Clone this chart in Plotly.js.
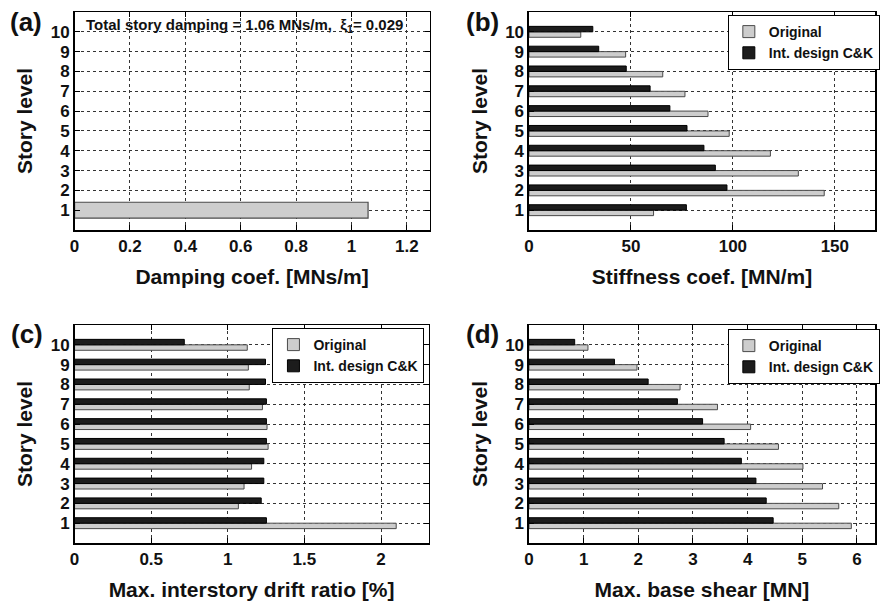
<!DOCTYPE html>
<html><head><meta charset="utf-8">
<script src="https://cdn.plot.ly/plotly-3.0.1.min.js"></script>
<style>html,body{margin:0;padding:0;background:#fff}</style>
</head><body><div id="chart" style="width:880px;height:603px"></div>
<script>
// ---- data ----
const stories = [1,2,3,4,5,6,7,8,9,10];
const storyTicks = ['1','2','3','4','5','6','7','8','9','10'];
const dampingStory = [1];
const dampingValue = [1.06];
const stiffOriginal  = [61.1,144.8,132.1,118.4,98.2,87.8,76.5,65.6,47.4,25.4];
const stiffIntDesign = [77.2,97.1,91.4,85.8,77.5,69.1,59.4,47.7,34.2,31.3];
const driftOriginal  = [2.099,1.069,1.106,1.155,1.263,1.256,1.226,1.140,1.134,1.127];
const driftIntDesign = [1.252,1.218,1.235,1.235,1.252,1.252,1.252,1.246,1.246,0.716];
const shearOriginal  = [5.897,5.667,5.370,5.012,4.564,4.055,3.448,2.764,1.976,1.079];
const shearIntDesign = [4.467,4.340,4.152,3.885,3.570,3.176,2.715,2.180,1.564,0.836];
const seriesNames = ['Original','Int. design C&K'];

// ---- style ----
const F = 'Liberation Sans, Arial, sans-serif';
const grayFill = '#cdcdcd', grayLine = '#4a4a4a', blackFill = '#1c1c1c';

function pair(xo, xi, xa, ya, leg){
  return [
    {type:'bar', orientation:'h', y:stories, x:xo, xaxis:xa, yaxis:ya, name:seriesNames[0], legend:leg,
     marker:{color:grayFill, line:{color:grayLine, width:1}}, hoverinfo:'skip'},
    {type:'bar', orientation:'h', y:stories, x:xi, xaxis:xa, yaxis:ya, name:seriesNames[1], legend:leg,
     marker:{color:blackFill, line:{color:'#000', width:1}}, hoverinfo:'skip'}
  ];
}

const traces = [
  {type:'bar', orientation:'h', y:dampingStory, x:dampingValue, xaxis:'x', yaxis:'y', width:0.8,
   showlegend:false, marker:{color:grayFill, line:{color:grayLine, width:1.2}}, hoverinfo:'skip'}
].concat(
  pair(stiffOriginal, stiffIntDesign, 'x2', 'y2', 'legend2'),
  pair(driftOriginal, driftIntDesign, 'x3', 'y3', 'legend3'),
  pair(shearOriginal, shearIntDesign, 'x4', 'y4', 'legend4')
);

function xax(domain, range, dtick, title, anchor){
  return {domain:domain, range:range, dtick:dtick, tick0:0, anchor:anchor,
    showline:true, linecolor:'#000', linewidth:1.5, mirror:'ticks',
    ticks:'inside', ticklen:5, tickcolor:'#000',
    showgrid:true, gridcolor:'#333', griddash:'3px,3px', gridwidth:1, zeroline:false,
    tickfont:{family:F, size:17, color:'#111', weight:'bold'},
    title:{text:title, font:{family:F, size:21, color:'#111', weight:'bold'}, standoff:14},
    fixedrange:true};
}
function yax(domain, anchor){
  return {domain:domain, range:[0,11], tickvals:stories, ticktext:storyTicks, anchor:anchor,
    showline:true, linecolor:'#000', linewidth:1.5, mirror:'ticks',
    ticks:'inside', ticklen:5, tickcolor:'#000',
    showgrid:true, gridcolor:'#333', griddash:'3px,3px', gridwidth:1, zeroline:false,
    tickfont:{family:F, size:17, color:'#111', weight:'bold'},
    title:{text:'Story level', font:{family:F, size:21, color:'#111', weight:'bold'}, standoff:12},
    fixedrange:true};
}
function legendBox(x, y){
  return {x:x, y:y, xanchor:'left', yanchor:'top', bgcolor:'#fff', bordercolor:'#000', borderwidth:1,
    font:{family:F, size:14, color:'#111', weight:'bold'}, tracegroupgap:0, itemwidth:30};
}

const topRow = [1-230/603, 1-12/603];
const botRow = [1-543/603, 1-325/603];
const leftCol = [75/880, 432/880];
const leftColC = [75/880, 431/880];
const rightCol = [532/880, 1];

const layout = {
  width:880, height:603, margin:{l:0, r:0, t:0, b:0},
  paper_bgcolor:'#fff', plot_bgcolor:'#fff',
  barmode:'group', bargap:0.45, bargroupgap:0,
  showlegend:true,
  font:{family:F, color:'#111'},
  xaxis: xax(leftCol, [0,1.282], 0.2, 'Damping coef. [MNs/m]', 'y'),
  yaxis: yax(topRow, 'x'),
  xaxis2: xax(rightCol, [0,169.7], 50, 'Stiffness coef. [MN/m]', 'y2'),
  yaxis2: yax(topRow, 'x2'),
  xaxis3: xax(leftColC, [0,2.31], 0.5, 'Max. interstory drift ratio [%]', 'y3'),
  yaxis3: yax(botRow, 'x3'),
  xaxis4: xax(rightCol, [0,6.33], 1, 'Max. base shear [MN]', 'y4'),
  yaxis4: yax(botRow, 'x4'),
  legend2: legendBox(732/880, 1-15/603),
  legend3: legendBox(274/880, 1-328/603),
  legend4: legendBox(732/880, 1-329/603),
  annotations: [
    {xref:'paper', yref:'paper', x:44/880, y:1-22/603, xanchor:'right', yanchor:'middle', showarrow:false,
     text:'(a)', font:{family:F, size:26, color:'#111', weight:'bold'}},
    {xref:'paper', yref:'paper', x:504/880, y:1-22/603, xanchor:'right', yanchor:'middle', showarrow:false,
     text:'(b)', font:{family:F, size:26, color:'#111', weight:'bold'}},
    {xref:'paper', yref:'paper', x:45/880, y:1-334/603, xanchor:'right', yanchor:'middle', showarrow:false,
     text:'(c)', font:{family:F, size:26, color:'#111', weight:'bold'}},
    {xref:'paper', yref:'paper', x:504/880, y:1-334/603, xanchor:'right', yanchor:'middle', showarrow:false,
     text:'(d)', font:{family:F, size:26, color:'#111', weight:'bold'}},
    {xref:'paper', yref:'paper', x:246/880, y:1-25/603, xanchor:'center', yanchor:'middle', showarrow:false,
     text:'Total story damping = 1.06 MNs/m,  ξ<sub>1</sub>= 0.029',
     font:{family:F, size:15, color:'#111', weight:'bold'}}
  ]
};

Plotly.newPlot('chart', traces, layout, {displayModeBar:false, staticPlot:true});
</script></body></html>
